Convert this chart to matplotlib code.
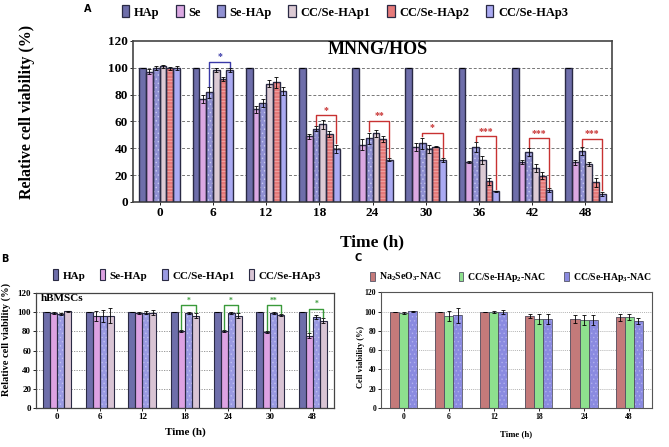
import numpy as np
import matplotlib.pyplot as plt
from matplotlib.patches import Patch

plt.rcParams['font.family'] = ['Liberation Serif', 'DejaVu Serif']
plt.rcParams['font.weight'] = 'bold'
plt.rcParams['axes.labelweight'] = 'bold'
plt.rcParams['mathtext.fontset'] = 'custom'
plt.rcParams['mathtext.rm'] = 'Liberation Serif:bold'
plt.rcParams['hatch.linewidth'] = 0.5

#%% data, panel A (MNNG/HOS)
a_times = ['0', '6', '12', '18', '24', '30', '36', '42', '48']
a_names = ['HAp', 'Se', 'Se-HAp', 'CC/Se-HAp1', 'CC/Se-HAp2', 'CC/Se-HAp3']
a_hap = [100, 100, 100, 100, 100, 100, 100, 100, 100]
a_se = [97, 76.5, 69, 48.8, 42.6, 40.6, 29.7, 29.5, 29.5]
a_sehap = [100, 81.7, 74, 54.5, 47.5, 43.8, 40.8, 37.1, 38]
a_cc1 = [101, 98.3, 88, 57.7, 51.2, 39.6, 31.4, 25.5, 28.5]
a_cc2 = [99.5, 91.3, 89, 50.7, 46.8, 41.3, 15.3, 19.6, 14.6]
a_cc3 = [99.5, 98, 82.7, 39.8, 31.4, 31, 7.9, 8.7, 6.2]
a_hap_err = [0, 0, 0, 0, 0, 0, 0, 0, 0]
a_se_err = [2, 3, 2.5, 2, 4, 3, 0.5, 1.5, 2]
a_sehap_err = [1.5, 4, 3, 2, 4, 4, 3.5, 3, 3]
a_cc1_err = [1, 1.5, 2.5, 3, 2.5, 3, 3, 3, 1.5]
a_cc2_err = [1, 1.5, 4, 2.5, 2, 0.5, 2.5, 2.5, 3.5]
a_cc3_err = [1.5, 1.5, 3, 3, 1, 1.5, 0.5, 1.5, 1.5]
a_sig_groups = [1, 3, 4, 5, 6, 7, 8]
a_sig_height = [104.5, 64.4, 60.6, 51.7, 48.8, 47.5, 46.8]
a_sig_marks = ['*', '*', '**', '*', '***', '***', '***']

#%% data, panel B (hBMSCs)
b_times = ['0', '6', '12', '18', '24', '30', '48']
b_names = ['HAp', 'Se-HAp', 'CC/Se-HAp1', 'CC/Se-HAp3']
b_hap = [100, 100, 100, 100, 100, 100, 100]
b_sehap = [99.5, 96, 99.5, 80, 80, 79.5, 75.5]
b_cc1 = [98.5, 96, 99.5, 99.5, 99.5, 99.5, 95]
b_cc3 = [101, 96.5, 99.5, 96.5, 96.5, 97, 91]
b_hap_err = [0, 0, 0, 0, 0, 0, 0]
b_sehap_err = [1, 5, 1, 1, 1, 1, 2.5]
b_cc1_err = [1, 6, 1.5, 1, 1, 1, 2.5]
b_cc3_err = [0.5, 8, 2.5, 3, 3, 1.5, 2.5]
b_sig_groups = [3, 4, 5, 6]
b_sig_height = [107, 107, 107, 103.7]
b_sig_marks = ['*', '*', '**', '*']

#%% data, panel C (NAC)
c_times = ['0', '6', '12', '18', '24', '48']
c_names = ['Na$_\\mathrm{2}$SeO$_\\mathrm{3}$-NAC', 'CC/Se-HAp$_\\mathrm{2}$-NAC', 'CC/Se-HAp$_\\mathrm{3}$-NAC']
c_na = [100, 100, 100, 95.5, 92.5, 94]
c_cc2 = [99, 95.5, 99.5, 92.5, 91, 94.5]
c_cc3 = [100.5, 96, 99.5, 92.5, 91, 90.5]
c_na_err = [0, 0, 0, 2.5, 4, 4]
c_cc2_err = [1, 5, 1, 5, 5, 3]
c_cc3_err = [0.5, 8, 2, 5, 5, 3]


def grouped(ax, vals, errs, faces, hatches, hcolors, width, edge, lw, capsize):
    # draw one group of bars per time point, hatch layer + outline layer
    x = np.arange(len(vals[0]))
    offs = (np.arange(len(vals)) - (len(vals) - 1) / 2) * width
    for i in range(len(vals)):
        ax.bar(x + offs[i], vals[i], width, color=faces[i], edgecolor=hcolors[i],
               hatch=hatches[i], linewidth=0, zorder=2)
        ax.bar(x + offs[i], vals[i], width, fill=False, edgecolor=edge,
               linewidth=lw, zorder=3)
        ax.errorbar(x + offs[i], vals[i], yerr=errs[i], fmt='none', ecolor='black',
                    elinewidth=0.6, capsize=capsize, capthick=0.6, zorder=4)
    return x, offs


def bracket(ax, x1, x2, y, y1, y2, color, mark, fs):
    ax.plot([x1, x1, x2, x2], [y1, y, y, y2], color=color, lw=1.0, zorder=5)
    ax.text((x1 + x2) / 2, y + 0.5, mark, ha='center', va='bottom', color=color,
            fontsize=fs, zorder=5)


def style_axis(ax, ticks, fs, lw, frame):
    ax.set_xticks(np.arange(len(ticks)))
    ax.set_xticklabels(ticks)
    ax.set_xlim(-0.5, len(ticks) - 0.5)
    ax.set_ylim(0, 120)
    ax.set_yticks(np.arange(0, 121, 20))
    ax.tick_params(labelsize=fs, length=2, width=0.6, pad=1.5)
    for s in ax.spines.values():
        s.set_linewidth(lw)
        s.set_color(frame)


W, H = 669, 447
fig = plt.figure(figsize=(W / 100, H / 100), dpi=100)


def px_axes(left, top, right, bottom):
    return fig.add_axes([left / W, 1 - bottom / H, (right - left) / W, (bottom - top) / H])


#%% panel A
axA = px_axes(133, 40.8, 612, 202)
a_faces = ['#6e6eaa', '#dba8e2', '#9090d2', '#dccad4', '#e67a7a', '#aaaaf2']
a_hatch = ['', '', '....', '', '-----', '']
a_hcol = ['#6e6eaa', '#dba8e2', '#c8c8f0', '#dccad4', '#f4b0b0', '#aaaaf2']
xA, oA = grouped(axA,
                 [a_hap, a_se, a_sehap, a_cc1, a_cc2, a_cc3],
                 [a_hap_err, a_se_err, a_sehap_err, a_cc1_err, a_cc2_err, a_cc3_err],
                 a_faces, a_hatch, a_hcol, 0.127, '#2a2a44', 1.0, 1.5)
style_axis(axA, a_times, 9.5, 1.2, '#444444')
for yv in range(20, 101, 20):
    axA.axhline(yv, color='#777777', lw=0.7, ls=(0, (3, 2)), zorder=1)
for k, g in enumerate(a_sig_groups):
    col = '#3a3aa8' if k == 0 else '#c83232'
    y1 = a_sehap[g] + a_sehap_err[g] + 1
    y2 = a_cc3[g] + a_cc3_err[g] + 1
    bracket(axA, g + oA[2], g + oA[5], a_sig_height[k], y1, y2, col, a_sig_marks[k], 7)
axA.text(0.51, 0.944, 'MNNG/HOS', transform=axA.transAxes, ha='center', va='center',
         fontsize=13)
axA.set_ylabel('Relative cell viability (%)', fontsize=11.5)
axA.yaxis.set_label_coords(-0.205, 0.56)
axA.set_xlabel('Time (h)', fontsize=12.5)
axA.xaxis.set_label_coords(0.5, -0.2)
hA = [Patch(facecolor=c, edgecolor='#2a2a44', linewidth=0.9) for c in a_faces]
fig.legend(hA, a_names, loc='center', bbox_to_anchor=(345 / W, 1 - 12 / H), ncol=6,
           frameon=False, fontsize=9, handlelength=0.6, handleheight=1.1,
           handletextpad=0.4, columnspacing=1.3)
fig.text(88 / W, 1 - 9 / H, 'A', family='DejaVu Sans', fontsize=7, ha='center', va='center')

#%% panel B
axB = px_axes(36, 293, 334, 408)
b_faces = ['#6e6eaa', '#dda2e2', '#9a9ae2', '#d9c4d4']
b_hatch = ['', '', '....', '']
b_hcol = ['#6e6eaa', '#dda2e2', '#c0c0f0', '#d9c4d4']
xB, oB = grouped(axB, [b_hap, b_sehap, b_cc1, b_cc3],
                 [b_hap_err, b_sehap_err, b_cc1_err, b_cc3_err],
                 b_faces, b_hatch, b_hcol, 0.165, '#2a2a44', 0.8, 1.2)
style_axis(axB, b_times, 6.5, 0.9, '#444444')
for yv in range(20, 101, 20):
    axB.axhline(yv, color='#888888', lw=0.6, ls=(0, (1.5, 1.5)), zorder=1)
for k, g in enumerate(b_sig_groups):
    y1 = b_sehap[g] + b_sehap_err[g] + 1
    y2 = b_cc3[g] + b_cc3_err[g] + 1
    bracket(axB, g + oB[1], g + oB[3], b_sig_height[k], y1, y2, '#3a9a3a', b_sig_marks[k], 5.5)
axB.text(0.015, 0.995, 'hBMSCs', transform=axB.transAxes, ha='left', va='top', fontsize=8)
axB.set_ylabel('Relative cell viability (%)', fontsize=7.5)
axB.yaxis.set_label_coords(-0.083, 0.6)
axB.set_xlabel('Time (h)', fontsize=8)
axB.xaxis.set_label_coords(0.5, -0.165)
hB = [Patch(facecolor=c, edgecolor='#2a2a44', linewidth=0.8) for c in b_faces]
fig.legend(hB, b_names, loc='center', bbox_to_anchor=(187 / W, 1 - 275 / H), ncol=4,
           frameon=False, fontsize=8, handlelength=0.5, handleheight=1.1,
           handletextpad=0.4, columnspacing=1.3)
fig.text(5 / W, 1 - 259 / H, 'B', family='DejaVu Sans', fontsize=7, ha='center', va='center')

#%% panel C
axC = px_axes(381, 292.3, 651.7, 408)
c_faces = ['#c47a7a', '#8ee08e', '#8a8ae0']
c_hatch = ['', '', '....']
c_hcol = ['#c47a7a', '#8ee08e', '#b0b0ee']
xC, oC = grouped(axC, [c_na, c_cc2, c_cc3], [c_na_err, c_cc2_err, c_cc3_err],
                 c_faces, c_hatch, c_hcol, 0.2, '#555566', 0.6, 1.2)
style_axis(axC, c_times, 5.5, 0.8, '#555555')
for yv in range(20, 101, 20):
    axC.axhline(yv, color='#999999', lw=0.5, ls=(0, (1.5, 1.5)), zorder=1)
axC.set_ylabel('Cell viability (%)', fontsize=6)
axC.yaxis.set_label_coords(-0.06, 0.44)
axC.set_xlabel('Time (h)', fontsize=6.3)
axC.xaxis.set_label_coords(0.5, -0.19)
hC = [Patch(facecolor=c, edgecolor='#555566', linewidth=0.6) for c in c_faces]
fig.legend(hC, c_names, loc='center', bbox_to_anchor=(511 / W, 1 - 277 / H), ncol=3,
           frameon=False, fontsize=7, handlelength=0.5, handleheight=1.1,
           handletextpad=0.4, columnspacing=1.8)
fig.text(358 / W, 1 - 258 / H, 'C', family='DejaVu Sans', fontsize=7, ha='center', va='center')

fig.savefig('out.png', dpi=100)
